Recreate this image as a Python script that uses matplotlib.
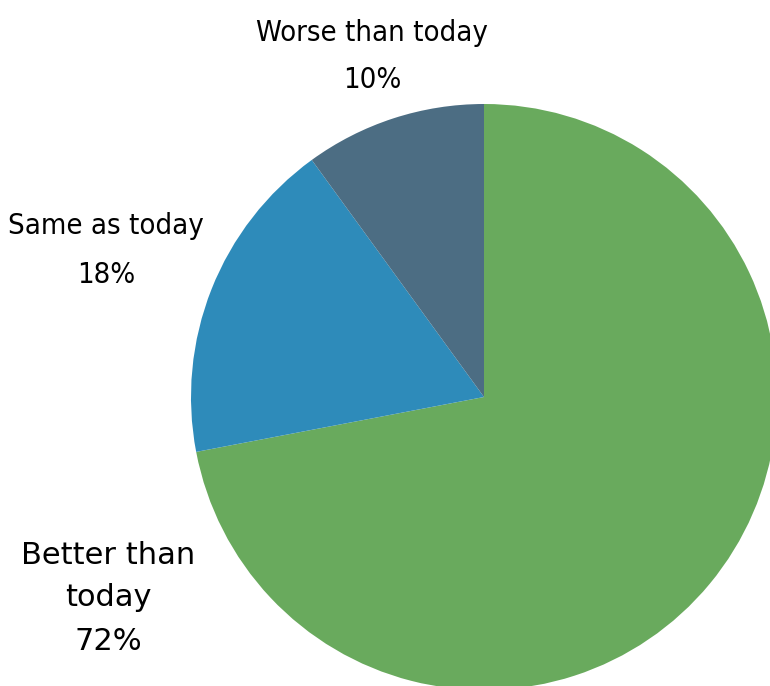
import matplotlib
matplotlib.use("Agg")
import matplotlib.pyplot as plt

# survey answers
categories = ["Better than\ntoday", "Same as today", "Worse than today"]
shares = [72, 18, 10]
colors = ["#69aa5d", "#2e8bba", "#4c6d83"]

plt.rcParams['font.family'] = ['DejaVu Sans']

W, H = 770, 686
fig = plt.figure(figsize=(W / 100, H / 100), dpi=100)
cx, cy, r = 484, 397, 293
ax = fig.add_axes([(cx - r) / W, (H - cy - r) / H, 2 * r / W, 2 * r / H])
ax.pie(shares, colors=colors, startangle=90, counterclock=False,
       wedgeprops=dict(linewidth=0))
ax.set_xlim(-1, 1)
ax.set_ylim(-1, 1)
ax.set_aspect('equal')
ax.axis('off')

# label centre and line spacing in pixels; the "better" label is set wide
label_pos = [(108, 555), (106, 226), (372, 33)]
line_h = [43, 49, 47]
stretch = ['normal', 'condensed', 'condensed']
sizes = [22, 21, 21]
for cat, val, (px, py), lh, st, fs in zip(categories, shares, label_pos,
                                          line_h, stretch, sizes):
    lines = cat.split("\n") + [f"{val}%"]
    for i, ln in enumerate(lines):
        fig.text(px / W, 1 - (py + i * lh) / H, ln, ha='center', va='center',
                 fontsize=fs, fontstretch=st, color='black')

fig.savefig("out.png", dpi=100)
